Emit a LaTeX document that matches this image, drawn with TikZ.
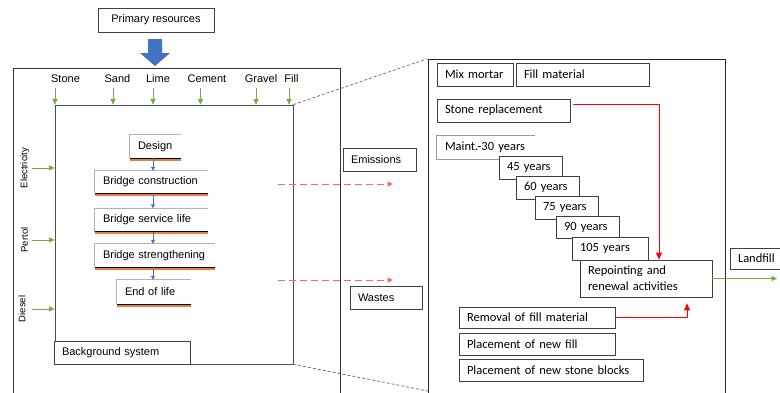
\documentclass[tikz,border=0pt]{standalone}
\usepackage{fontspec}
\setmainfont{Liberation Sans}
\newfontfamily\calib{Carlito}
\usetikzlibrary{arrows.meta}
\definecolor{lcagreen}{HTML}{70AD47}
\definecolor{lcablue}{HTML}{4472C4}
\definecolor{lcaorange}{HTML}{ED7D31}
\begin{document}
\begin{tikzpicture}[x=1pt, y=-1pt, >={Triangle[length=5.5pt,width=5pt]},
    box/.style={draw=black!75, line width=0.7pt, fill=white, inner xsep=8pt, inner ysep=0pt,
        align=left, font=\fontsize{11}{13}\selectfont},
    rbox/.style={box, font=\calib\fontsize{12.5}{16}\selectfont},
    proc/.style={inner xsep=8pt, inner ysep=0pt, align=left, font=\fontsize{11}{13}\selectfont},
    garrow/.style={->, lcagreen, line width=0.7pt},
    barrow/.style={->, lcablue, line width=0.7pt, >={Triangle[length=4pt,width=4pt]}},
    rarrow/.style={->, red, line width=0.8pt, >={Triangle[length=7pt,width=6pt]}}]
    \clip (0,0) rectangle (780,392);

    % primary resources and big blue arrow
    \node[box, minimum width=116pt, minimum height=24pt, align=center] (prim) at (156,20) {Primary resources};
    \fill[lcablue] (148,39) -- (162,39) -- (162,53) -- (170,53) -- (155,66) -- (140,53) -- (148,53) -- cycle;

    % foreground / background system
    \draw[black!80, line width=0.7pt] (13,68) rectangle (340,400);
    \node[draw=black!70, line width=0.8pt, minimum width=238pt, minimum height=259pt, inner sep=0pt] (inner) at (174,234.5) {};

    % material inputs
    \foreach \n/\lx/\ax in {Stone/65.5/55, Sand/117.5/113, Lime/158/153, Cement/207/200.5, Gravel/261/256, Fill/291.5/289} {
        \node[font=\fontsize{11}{13}\selectfont] (in\n) at (\lx,79) {\n};
        \draw[garrow] (\ax,88) -- (\ax,0 |- inner.north);
    }

    % energy inputs
    \foreach \n/\ly/\lx in {Electricity/168/25, Pertol/240/24.5, Diesel/309/22} {
        \node[rotate=90, font=\fontsize{9.5}{11}\selectfont] (en\n) at (\lx,\ly) {\n};
        \draw[garrow] (32,\ly) -- (inner.west |- 0,\ly);
    }

    % life cycle stages
    \node[proc, text width=35pt] (design) at (155.5,146.5) [minimum height=23pt] {Design};
    \node[proc, text width=97pt] (constr) at (151.5,182) [minimum height=22pt] {Bridge construction};
    \node[proc, text width=97pt] (service) at (151.5,220) [minimum height=23pt] {Bridge service life};
    \node[proc, text width=104pt] (strength) at (155,255.5) [minimum height=23pt] {Bridge strengthening};
    \node[proc, text width=58pt] (eol) at (154,292) [minimum height=24pt] {End of life};
    \foreach \b in {design,constr,service,strength,eol} {
        \draw[black!30, line width=0.8pt] (\b.south west) -- (\b.north west) -- (\b.north east);
        \draw[lcaorange, line width=2pt] ([yshift=-1.6pt]\b.south west) -- ([yshift=-1.6pt]\b.south east);
        \draw[black, line width=0.8pt] (\b.south west) -- (\b.south east);
    }
    \coordinate (spine) at (153,0);
    \draw[barrow] (spine |- design.south) -- (spine |- constr.north);
    \draw[barrow] (spine |- constr.south) -- (spine |- service.north);
    \draw[barrow] (spine |- service.south) -- (spine |- strength.north);
    \draw[barrow] (spine |- strength.south) -- (spine |- eol.north);

    \node[box, text width=120pt, minimum height=23pt] (bgsys) at (122,352.5) {Background system};

    % outputs
    \node[box, text width=57pt, inner xsep=8pt, minimum height=23pt] (emis) at (379.5,159.5) {Emissions};
    \node[box, text width=56pt, minimum height=23pt] (waste) at (386,297.5) {Wastes};
    \coordinate (e0) at (278,184);
    \coordinate (e1) at (393,184);
    \coordinate (w0) at (278,280);
    \coordinate (w1) at (393,280);
    \draw[->, red!60, dashed, dash pattern=on 7pt off 4pt, line width=0.8pt] (e0) -- (e1);
    \draw[->, red!60, dashed, dash pattern=on 7pt off 4pt, line width=0.8pt] (w0) -- (w1);

    % zoom of the service life
    \node[draw=black!85, line width=0.7pt, minimum width=297pt, minimum height=341pt, inner sep=0pt] (detail) at (576.5,229.5) {};
    \coordinate (zb) at (428,391);
    \draw[black!60, dashed, dash pattern=on 3pt off 2pt, line width=0.7pt] (inner.north east) -- (detail.north west);
    \draw[black!60, dashed, dash pattern=on 3pt off 2pt, line width=0.7pt] (inner.south east) -- (zb);

    \node[rbox, text width=60pt, minimum height=23pt] (mix) at (475,74.5) {Mix mortar};
    \node[rbox, text width=117pt, minimum height=23pt] (fillm) at (582.5,74.5) {Fill material};
    \node[rbox, text width=117pt, minimum height=23pt] (stone) at (503.5,110.5) {Stone replacement};
    \node[rbox, draw=none, text width=82pt, minimum height=23pt] (maint) at (486,147.5) {Maint.-30 years};
    \draw[black!40, line width=0.7pt] (maint.north east) -- (maint.north west) -- (maint.south west) -- (maint.south east);
    \node[rbox, text width=47pt, minimum height=23pt] (y45) at (530.5,167.5) {45 years};
    \node[rbox, text width=47pt, minimum height=23pt] (y60) at (547.5,187.5) {60 years};
    \node[rbox, text width=47pt, minimum height=23pt] (y75) at (566.5,207.5) {75 years};
    \node[rbox, text width=47pt, minimum height=22pt] (y90) at (587.5,227) {90 years};
    \node[rbox, text width=60pt, minimum height=23pt] (y105) at (610,248.5) {105 years};
    \node[rbox, text width=116pt, minimum height=37pt] (rep) at (646,278.5) {Repointing and\\renewal activities};
    \node[rbox, text width=140pt, minimum height=21pt] (removal) at (537,317.5) {Removal of fill material};
    \node[rbox, text width=140pt, minimum height=22pt] (newfill) at (537,344) {Placement of new fill};
    \node[rbox, text width=168pt, minimum height=22pt] (newstone) at (551,370.5) {Placement of new stone blocks};
    \node[rbox, text width=49pt, minimum height=21pt] (landfill) at (762.5,258.5) {Landfill};

    \draw[rarrow] ([xshift=3pt,yshift=6.5pt]stone.east) -| ([xshift=13pt]rep.north);
    \draw[rarrow] (removal.east) -| ([xshift=41pt,yshift=-6pt]rep.south);
    \coordinate (lf) at (777,0);
    \draw[garrow] (rep.east) -- (lf |- rep.east);
\end{tikzpicture}
\end{document}
